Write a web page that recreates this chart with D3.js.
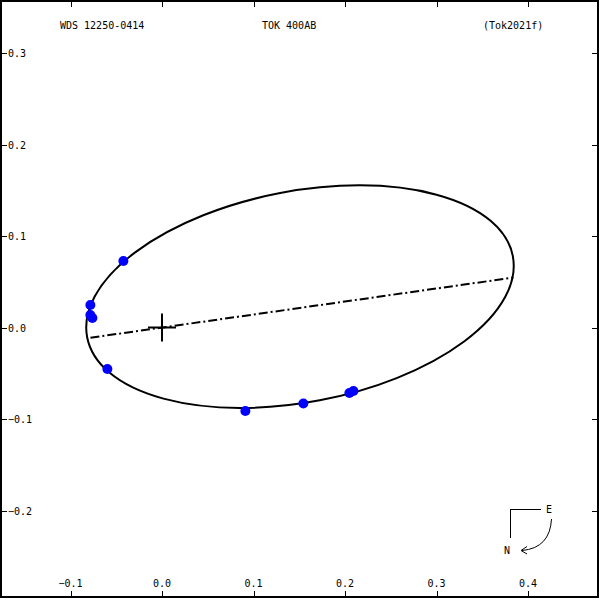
<!DOCTYPE html>
<html>
<head>
<meta charset="utf-8">
<script src="https://cdn.jsdelivr.net/npm/d3@7"></script>
<style>
  body { margin: 0; background: #fff; }
  text { font-family: "DejaVu Sans Mono", "Liberation Mono", monospace; font-size: 10px; fill: #000; }
</style>
</head>
<body>
<div id="chart"></div>
<script>
const width = 600, height = 600;

// header texts
const titles = ["WDS 12250-0414", "TOK 400AB", "(Tok2021f)"];

// tick values (arcsec)
const xTicks = [-0.1, 0.0, 0.1, 0.2, 0.3, 0.4];
const yTicks = [0.3, 0.2, 0.1, 0.0, -0.1, -0.2];

// apparent orbit ellipse: centre x, centre y, semi-major, semi-minor, tilt (deg)
const orbitCentre = [0.1508, 0.0337];
const orbitAxes = [0.2368, 0.1153];
const orbitTilt = 10.8;

// line of nodes end points
const nodeLine = [[-0.0782, -0.0112], [0.384, 0.0546]];

// observed positions
const obsX = [-0.0422, -0.0783, -0.0783, -0.0761, -0.0597, 0.0911, 0.1545, 0.2048, 0.2092];
const obsY = [0.0727, 0.0246, 0.0137, 0.0104, -0.0454, -0.0913, -0.0831, -0.0716, -0.0694];

const x = d3.scaleLinear().domain([-0.1, 0.4]).range([70.5, 528]);
const y = d3.scaleLinear().domain([0.3, -0.2]).range([53, 510.5]);

const svg = d3.select("#chart").append("svg")
    .attr("width", width)
    .attr("height", height);

// frame
svg.append("rect")
    .attr("x", 1).attr("y", 1)
    .attr("width", 597).attr("height", 596)
    .attr("fill", "none")
    .attr("stroke", "#000")
    .attr("stroke-width", 2)
    .attr("shape-rendering", "crispEdges");

const ticks = svg.append("g")
    .attr("stroke", "#000")
    .attr("stroke-width", 1)
    .attr("shape-rendering", "crispEdges");

xTicks.forEach(v => {
    ticks.append("line").attr("x1", Math.round(x(v)) + 0.5).attr("x2", Math.round(x(v)) + 0.5).attr("y1", 2).attr("y2", 7);
    ticks.append("line").attr("x1", Math.round(x(v)) + 0.5).attr("x2", Math.round(x(v)) + 0.5).attr("y1", 591).attr("y2", 597);
});
yTicks.forEach(v => {
    ticks.append("line").attr("y1", Math.round(y(v)) + 0.5).attr("y2", Math.round(y(v)) + 0.5).attr("x1", 2).attr("x2", 7);
    ticks.append("line").attr("y1", Math.round(y(v)) + 0.5).attr("y2", Math.round(y(v)) + 0.5).attr("x1", 592).attr("x2", 597);
});

const fmt = d3.format(".1f");

svg.append("g").selectAll("text")
    .data(xTicks)
    .join("text")
    .attr("x", d => x(d))
    .attr("y", 587)
    .attr("text-anchor", "middle")
    .text(d => fmt(d));

svg.append("g").selectAll("text")
    .data(yTicks)
    .join("text")
    .attr("x", 8)
    .attr("y", d => y(d) + 4)
    .text(d => fmt(d));

// header
const titleX = [60, 262, 483];
svg.append("g").selectAll("text")
    .data(titles)
    .join("text")
    .attr("x", (d, i) => titleX[i])
    .attr("y", 29)
    .text(d => d);

// orbit ellipse
const cxp = x(orbitCentre[0]), cyp = y(orbitCentre[1]);
svg.append("ellipse")
    .attr("cx", cxp)
    .attr("cy", cyp)
    .attr("rx", x(orbitCentre[0] + orbitAxes[0]) - cxp)
    .attr("ry", cyp - y(orbitCentre[1] + orbitAxes[1]))
    .attr("transform", `rotate(${-orbitTilt},${cxp},${cyp})`)
    .attr("fill", "none")
    .attr("stroke", "#000")
    .attr("stroke-width", 2);

// line of nodes
svg.append("line")
    .attr("x1", x(nodeLine[0][0])).attr("y1", y(nodeLine[0][1]))
    .attr("x2", x(nodeLine[1][0])).attr("y2", y(nodeLine[1][1]))
    .attr("stroke", "#000")
    .attr("stroke-width", 2)
    .attr("stroke-dasharray", "9,3,2,3");

// primary
svg.append("g")
    .attr("stroke", "#000")
    .attr("stroke-width", 2)
    .selectAll("line")
    .data([[-14, 0, 14, 0], [0, -14, 0, 14]])
    .join("line")
    .attr("x1", d => x(0) + d[0]).attr("y1", d => y(0) + d[1])
    .attr("x2", d => x(0) + d[2]).attr("y2", d => y(0) + d[3]);

// observations
svg.append("g").selectAll("circle")
    .data(obsX.map((v, i) => [v, obsY[i]]))
    .join("circle")
    .attr("cx", d => x(d[0]))
    .attr("cy", d => y(d[1]))
    .attr("r", 5)
    .attr("fill", "#0000ff");

// compass
const comp = svg.append("g")
    .attr("fill", "none")
    .attr("stroke", "#000")
    .attr("stroke-width", 1);
comp.append("path").attr("d", "M540.5,509.5 H510.5 V538").attr("shape-rendering", "crispEdges");
comp.append("path").attr("d", "M551.5,519 Q550,548 522,550.5");
comp.append("path").attr("d", "M527,546.5 L521,550.5 L527,554");
svg.append("text").attr("x", 546).attr("y", 513).text("E");
svg.append("text").attr("x", 504).attr("y", 554).text("N");
</script>
</body>
</html>
